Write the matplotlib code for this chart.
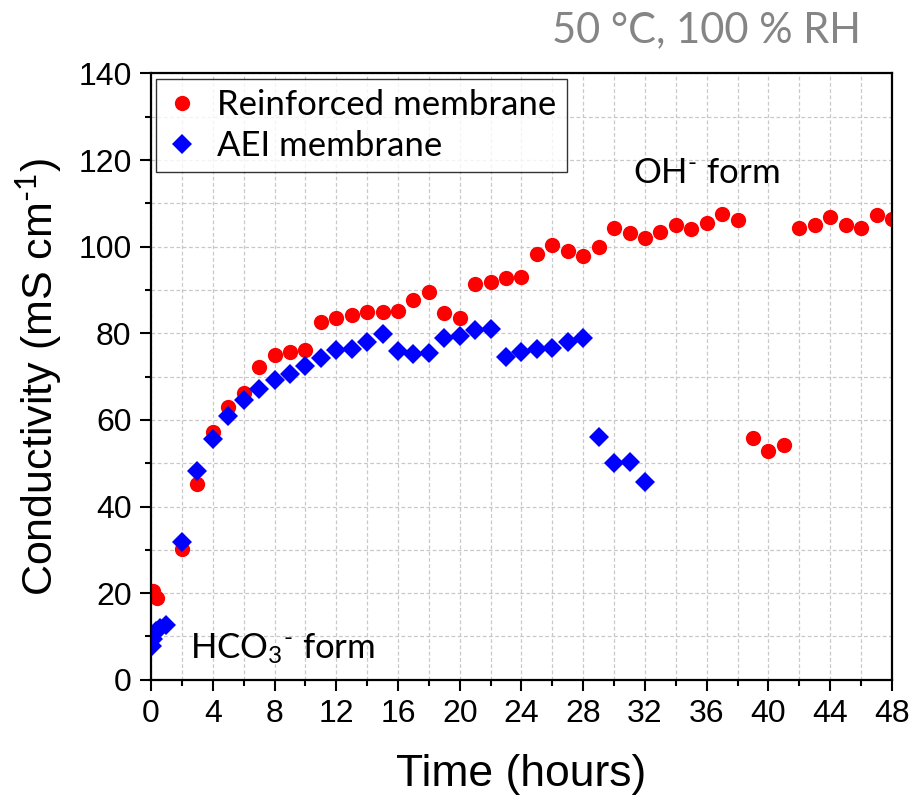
import numpy as np
import matplotlib.pyplot as plt
from matplotlib.ticker import MultipleLocator

plt.rcParams['mathtext.fontset'] = 'custom'
plt.rcParams['mathtext.rm'] = 'Lato'
plt.rcParams['mathtext.it'] = 'Lato:italic'
plt.rcParams['mathtext.bf'] = 'Lato:bold'

# conductivity vs time, hourly readings (mS/cm)
t_reinf = [0.1, 0.4, 2, 3, 4, 5, 6, 7, 8, 9, 10, 11, 12, 13, 14, 15, 16, 17, 18, 19, 20,
           21, 22, 23, 24, 25, 26, 27, 28, 29, 30, 31, 32, 33, 34, 35, 36, 37, 38, 39,
           40, 41, 42, 43, 44, 45, 46, 47, 48]
s_reinf = [20.4, 18.9, 30.2, 45.2, 57.2, 62.9, 66.2, 72.2, 74.9, 75.6, 76.2, 82.6, 83.6,
           84.2, 85.0, 84.9, 85.2, 87.6, 89.6, 84.8, 83.6, 91.4, 91.9, 92.7, 93.0, 98.2,
           100.4, 99.0, 97.9, 100.0, 104.4, 103.2, 102.0, 103.3, 105.0, 104.0, 105.5,
           107.6, 106.2, 55.8, 52.8, 54.3, 104.4, 104.9, 106.9, 104.9, 104.3, 107.3, 106.4]

t_aei = [0.05, 0.15, 0.3, 0.6, 1.0, 2, 3, 4, 5, 6, 7, 8, 9, 10, 11, 12, 13, 14, 15, 16,
         17, 18, 19, 20, 21, 22, 23, 24, 25, 26, 27, 28, 29, 30, 31, 32]
s_aei = [7.8, 9.5, 11.2, 12.0, 12.6, 31.8, 48.2, 55.7, 60.9, 64.6, 67.1, 69.2, 70.5, 72.5,
         74.3, 76.1, 76.3, 77.9, 79.9, 76.0, 75.2, 75.5, 78.9, 79.4, 80.7, 81.1, 74.6,
         75.6, 76.3, 76.6, 78.0, 78.9, 56.1, 50.0, 50.2, 45.6]

fig = plt.figure(figsize=(9.17, 8.01), dpi=100)
ax = fig.add_axes([0.1647, 0.1513, 0.808, 0.757])

ax.plot(t_reinf, s_reinf, 'o', color='#ff0000', ms=11, mew=0, label='Reinforced membrane')
ax.plot(t_aei, s_aei, 'D', color='#0000ff', ms=10.5, mew=0, label='AEI membrane')

ax.set_xlim(0, 48)
ax.set_ylim(0, 140)
ax.xaxis.set_major_locator(MultipleLocator(4))
ax.xaxis.set_minor_locator(MultipleLocator(2))
ax.yaxis.set_major_locator(MultipleLocator(20))
ax.yaxis.set_minor_locator(MultipleLocator(10))
ax.grid(True, which='both', ls=(0, (3, 2)), color='#c8c8c8', lw=0.9)
ax.set_axisbelow(True)
ax.tick_params(which='major', direction='out', length=8, width=1.5, labelsize=23, pad=6)
ax.tick_params(which='minor', direction='out', length=4.5, width=1.5)
for lab in ax.get_xticklabels() + ax.get_yticklabels():
    lab.set_family('Liberation Sans')
for sp in ax.spines.values():
    sp.set_linewidth(1.6)

ax.set_xlabel('Time (hours)', fontsize=32, family='Liberation Sans', labelpad=18)
ax.set_ylabel(r'Conductivity (mS cm$^{\text{-}1}$)', fontsize=31,
              family='Liberation Sans', labelpad=10)

leg = ax.legend(loc='upper left', prop={'family': 'Lato', 'size': 25},
                frameon=True, fancybox=False, edgecolor='black', borderaxespad=0.15,
                handletextpad=0.55, borderpad=0.3, labelspacing=0.25, handlelength=0.9)
leg.get_frame().set_linewidth(1.0)

ax.text(31.2, 114.7, r'OH$^{\text{-}}$ form', fontsize=25, family='Lato', va='baseline')
ax.text(2.5, 5, r'HCO$_3$$^{\text{-}}$ form', fontsize=25, family='Lato')
fig.text(0.602, 0.947, '50 \u00b0C, 100 % RH', fontsize=30, family='Lato', color='#858585')

fig.savefig('out.png', dpi=100)
